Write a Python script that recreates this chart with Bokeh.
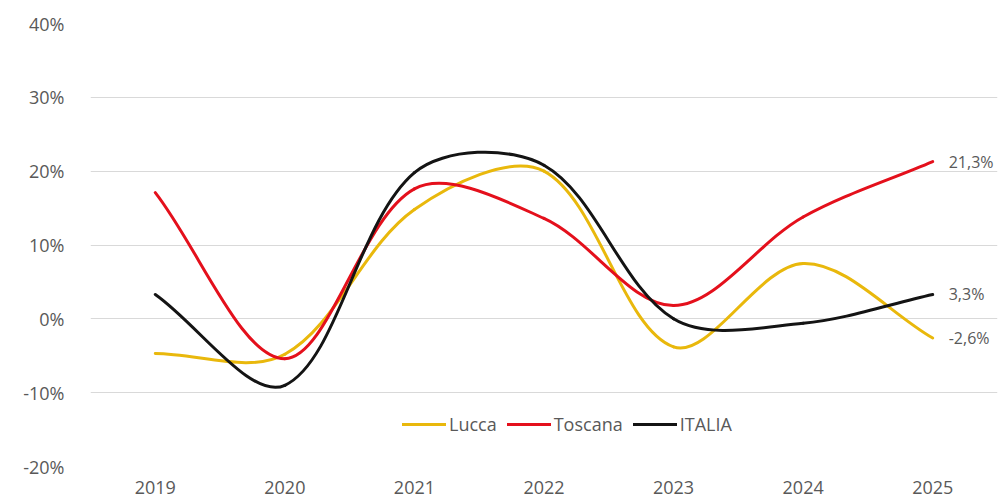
import math
from bokeh.plotting import figure
from bokeh.models import Range1d, FixedTicker, ColumnDataSource, Legend, LegendItem
from bokeh.embed import file_html
from bokeh.resources import INLINE
from bokeh.core.properties import value

# ---- data ----
years = [2019, 2020, 2021, 2022, 2023, 2024, 2025]
lucca = [-4.7, -4.8, 14.8, 20.0, -3.8, 7.5, -2.6]
toscana = [17.1, -5.4, 17.6, 13.6, 1.8, 13.8, 21.3]
italia = [3.3, -9.0, 19.8, 20.8, 0.0, -0.6, 3.3]
series_names = ["Lucca", "Toscana", "ITALIA"]
y_ticks = [-20, -10, 0, 10, 20, 30, 40]
y_tick_labels = ["-20%", "-10%", "0%", "10%", "20%", "30%", "40%"]
x_tick_labels = ["2019", "2020", "2021", "2022", "2023", "2024", "2025"]

colors = {"Lucca": "#E9B80C", "Toscana": "#E4101C", "ITALIA": "#141414"}
FONT = "Open Sans"
TXT = "#595959"

W, H = 1000, 500
ML, MR, MT, MB = 90, 3, 23, 34
FW, FH = W - ML - MR, H - MT - MB
x0r, x1r = years[0] - 0.5, years[-1] + 0.5
y0r, y1r = y_ticks[0], y_ticks[-1]
SX = FW / (x1r - x0r)
SY = FH / (y1r - y0r)


def smooth_segments(xs, ys):
    """Excel-like smoothed line: cubic Bezier control points from chord lengths in screen space."""
    X = [x * SX for x in xs]
    Y = [y * SY for y in ys]
    n = len(X)
    out = dict(x0=[], y0=[], x1=[], y1=[], cx0=[], cy0=[], cx1=[], cy1=[])
    d = lambda a, b: math.hypot(X[a] - X[b], Y[a] - Y[b])
    for i in range(n - 1):
        p0 = i - 1 if i > 0 else i
        p3 = i + 2 if i + 2 < n else i + 1
        d01, d12, d23 = d(p0, i), d(i, i + 1), d(i + 1, p3)
        f1 = d12 / (d01 + d12) / 3 if d01 + d12 > 0 else 0
        f2 = d12 / (d12 + d23) / 3 if d12 + d23 > 0 else 0
        c1x = X[i] + (X[i + 1] - X[p0]) * f1
        c1y = Y[i] + (Y[i + 1] - Y[p0]) * f1
        c2x = X[i + 1] - (X[p3] - X[i]) * f2
        c2y = Y[i + 1] - (Y[p3] - Y[i]) * f2
        out["x0"].append(xs[i]); out["y0"].append(ys[i])
        out["x1"].append(xs[i + 1]); out["y1"].append(ys[i + 1])
        out["cx0"].append(c1x / SX); out["cy0"].append(c1y / SY)
        out["cx1"].append(c2x / SX); out["cy1"].append(c2y / SY)
    return out


p = figure(width=W, height=H, x_range=Range1d(x0r, x1r), y_range=Range1d(y0r, y1r),
           output_backend="svg", toolbar_location=None,
           min_border_left=ML, min_border_right=MR, min_border_top=MT, min_border_bottom=MB)
p.outline_line_color = None
p.background_fill_color = "white"
p.border_fill_color = "white"
p.xgrid.visible = False
p.ygrid.grid_line_color = "#D9D9D9"
p.ygrid.grid_line_width = 1

p.yaxis.ticker = FixedTicker(ticks=y_ticks)
p.yaxis.major_label_overrides = {t: l for t, l in zip(y_ticks, y_tick_labels)}
p.xaxis.ticker = FixedTicker(ticks=years)
p.xaxis.major_label_overrides = {t: l for t, l in zip(years, x_tick_labels)}
for ax in (p.xaxis, p.yaxis):
    ax.axis_line_color = None
    ax.major_tick_line_color = None
    ax.minor_tick_line_color = None
    ax.major_label_text_font = FONT
    ax.major_label_text_font_size = "18px"
    ax.major_label_text_color = TXT
p.yaxis.major_label_standoff = 20
p.xaxis.major_label_standoff = 8

items = []
for name, vals in zip(series_names, [lucca, toscana, italia]):
    src = ColumnDataSource(smooth_segments(years, vals))
    r = p.bezier(x0="x0", y0="y0", x1="x1", y1="y1", cx0="cx0", cy0="cy0", cx1="cx1", cy1="cy1",
                 source=src, line_color=colors[name], line_width=3, line_cap="round")
    items.append(LegendItem(label=name, renderers=[r]))

# end labels
lab_src = ColumnDataSource(dict(
    x=[years[-1]] * 3,
    y=[toscana[-1], italia[-1], lucca[-1]],
    t=[(f"{v:.1f}%").replace(".", ",") for v in (toscana[-1], italia[-1], lucca[-1])],
))
p.text(x="x", y="y", text="t", source=lab_src, x_offset=16, text_baseline="middle", text_align="left",
       text_font=value(FONT), text_font_size="16px", text_color=TXT)

legend = Legend(items=items, orientation="horizontal", location=(312, 30),
                background_fill_alpha=0, border_line_color=None, padding=0, margin=0,
                glyph_width=44, glyph_height=20, label_standoff=3, spacing=10,
                label_text_font=FONT, label_text_font_size="18px", label_text_color=TXT)
p.add_layout(legend)

open("out.html", "w").write(file_html(p, INLINE))
